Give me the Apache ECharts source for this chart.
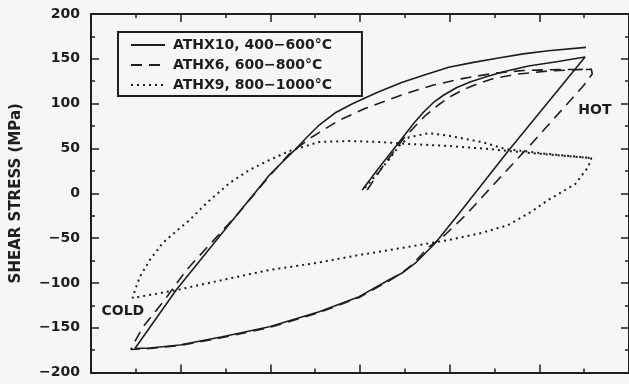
<!DOCTYPE html>
<html>
<head>
<meta charset="utf-8">
<script src="https://cdn.jsdelivr.net/npm/echarts@6/dist/echarts.min.js"></script>
<style>
html,body{margin:0;padding:0;background:#f6f6f6;}
#chart{width:629px;height:384px;}
</style>
</head>
<body>
<div id="chart"></div>
<script>
// ---- data (x in arbitrary strain units 0..12, y = shear stress MPa) ----
const seriesNames = ['ATHX10, 400\u2212600\u00b0C', 'ATHX6, 600\u2212800\u00b0C', 'ATHX9, 800\u22121000\u00b0C'];

const athx10X = [6.05,6.42,6.87,7.2,7.42,7.64,7.87,8.16,8.47,8.87,9.2,9.76,10.42,11.02,
  9.31,8.2,7.68,7.24,6.96,6.64,5.98,5.09,3.98,2.93,1.98,1.31,0.98,
  1.9,2.98,3.98,4.27,4.53,4.82,5.09,5.44,5.82,6.38,6.93,7.47,7.98,8.53,9.09,9.64,10.2,11.04];
const athx10Y = [3.6,28.2,56.8,78,90.7,101.3,109.6,118,124.5,130.8,135.6,142,147,152,
  47.5,-23.2,-55.5,-77.8,-88.4,-96.8,-115.4,-132.2,-148.9,-160.1,-169.3,-172.7,-173.2,
  -108,-41,20.4,34.9,47.5,62.8,76.1,89.5,99.6,112.5,123.5,132.5,140.5,146,151,155.5,159,162.8];

const athx6X = [6.16,6.56,6.98,7.47,7.76,8.02,8.31,8.64,8.98,9.53,10.2,11.16,11.18,
  10.98,9.82,8.93,8.36,7.82,7.53,7.18,6.93,6.64,5.98,5.09,3.98,2.93,1.98,1.31,0.89,
  0.96,1.16,1.64,2.13,2.64,3.31,3.98,4.42,4.93,5.53,6.11,7.04,7.64,8.31,8.98,9.64,10.42,11.16];
const athx6Y = [3.6,33.7,61.6,87.3,99,108,115.8,122.5,128.2,133,136.4,138.6,133.1,
  119.7,55,7,-24.3,-50,-60,-79,-89,-97.9,-116.3,-133.1,-149.8,-161,-169.8,-173.2,-174.3,
  -167.1,-149.2,-119.1,-85.6,-57.7,-21,19.2,43.8,62.8,81.2,94.6,111.5,120.8,128.2,133.8,137,138.1,138];

const athx9X = [6.11,6.36,6.64,6.87,7.09,7.53,7.98,8.71,9.24,10.2,11.16,
  11.09,10.8,10.2,9.82,9.31,8.71,7.98,6.93,5.98,4.98,3.98,2.93,1.91,0.93,
  0.98,1.09,1.31,1.6,1.93,2.2,2.58,3.09,3.53,3.98,4.42,5.09,5.76,6.42,7.09,7.98,8.87,9.31,10.2,11.16];
const athx9Y = [5.9,20.4,37.1,52.7,62.4,67,64.2,57.2,49.4,43.8,39.3,
  29.3,10.3,-7.5,-20.6,-35.4,-44.3,-52.2,-61.1,-68.9,-78.2,-85.6,-96.8,-108,-116.9,
  -108,-93.4,-74.5,-55.5,-41,-29.9,-10.9,11.4,25.9,37.1,47.1,57.2,58.3,57.2,55,52.7,49.4,47.1,43.2,39.3];

const annotations = [
  {text: 'COLD', x: 0.71, y: -132.2},
  {text: 'HOT', x: 11.24, y: 92.1}
];

// ---- chart ----
const ink = '#1e1e1e';
const font = 'DejaVu Sans';
function zip(xs, ys){ return xs.map((x,i)=>[x, ys[i]]); }

const chart = echarts.init(document.getElementById('chart'), null, {renderer:'canvas'});

function xAx(pos){
  return {
    type:'value', position:pos, min:0, max:12, interval:2, gridIndex:0,
    axisLine:{show:true, onZero:false, lineStyle:{color:ink, width:2}},
    axisTick:{show:true, inside:true, length:8, lineStyle:{color:ink, width:1.5}},
    minorTick:{show:true, splitNumber:2, length:4, lineStyle:{color:ink, width:1.5}},
    axisLabel:{show:false}, splitLine:{show:false}, minorSplitLine:{show:false}
  };
}
function yAx(pos, labels){
  const a = {
    type:'value', position:pos, min:-200, max:200, interval:50, gridIndex:0,
    axisLine:{show:true, onZero:false, lineStyle:{color:ink, width:2}},
    axisTick:{show:true, inside:true, length:8, lineStyle:{color:ink, width:1.5}},
    minorTick:{show:true, splitNumber:2, length:4, lineStyle:{color:ink, width:1.5}},
    axisLabel:{show:labels, margin:11, color:ink, fontFamily:font, fontSize:14, fontWeight:'bold',
      formatter: v => String(v).replace('-', '\u2212')},
    splitLine:{show:false}, minorSplitLine:{show:false}
  };
  if (labels) {
    a.name = 'SHEAR STRESS (MPa)';
    a.nameLocation = 'middle';
    a.nameGap = 67;
    a.nameTextStyle = {color:ink, fontFamily:font, fontSize:15, fontWeight:'bold'};
  }
  return a;
}

const lineStyles = [
  {color:ink, width:1.6, type:'solid'},
  {color:ink, width:1.6, type:[11,7]},
  {color:ink, width:2, type:[2,4]}
];
const dataSets = [zip(athx10X, athx10Y), zip(athx6X, athx6Y), zip(athx9X, athx9Y)];

const series = seriesNames.map((n,i)=>({
  name:n, type:'line', data:dataSets[i], symbol:'none', smooth:false,
  lineStyle:lineStyles[i], itemStyle:{color:ink}, silent:true, z:2
}));
series[0].markPoint = {
  symbol:'circle', symbolSize:0, silent:true,
  label:{show:true, position:'inside', formatter: p => p.name, color:ink,
    fontFamily:font, fontSize:14, fontWeight:'bold'},
  data: annotations.map(a=>({name:a.text, coord:[a.x, a.y]}))
};

chart.setOption({
  animation:false,
  backgroundColor:'#f6f6f6',
  grid:{left:91, top:14, width:540, height:358.5, containLabel:false},
  xAxis:[xAx('bottom'), xAx('top')],
  yAxis:[yAx('left', true), yAx('right', false)],
  legend:{
    show:true, orient:'vertical', left:118, top:32,
    data:seriesNames,
    itemWidth:34, itemHeight:12, itemGap:6,
    padding:[6,30,4,12],
    borderColor:ink, borderWidth:2, borderRadius:0,
    backgroundColor:'transparent',
    selectedMode:false,
    itemStyle:{opacity:0, borderWidth:0},
    textStyle:{color:ink, fontFamily:font, fontSize:14, fontWeight:'bold', padding:[0,0,0,3]}
  },
  series:series
});
</script>
</body>
</html>
